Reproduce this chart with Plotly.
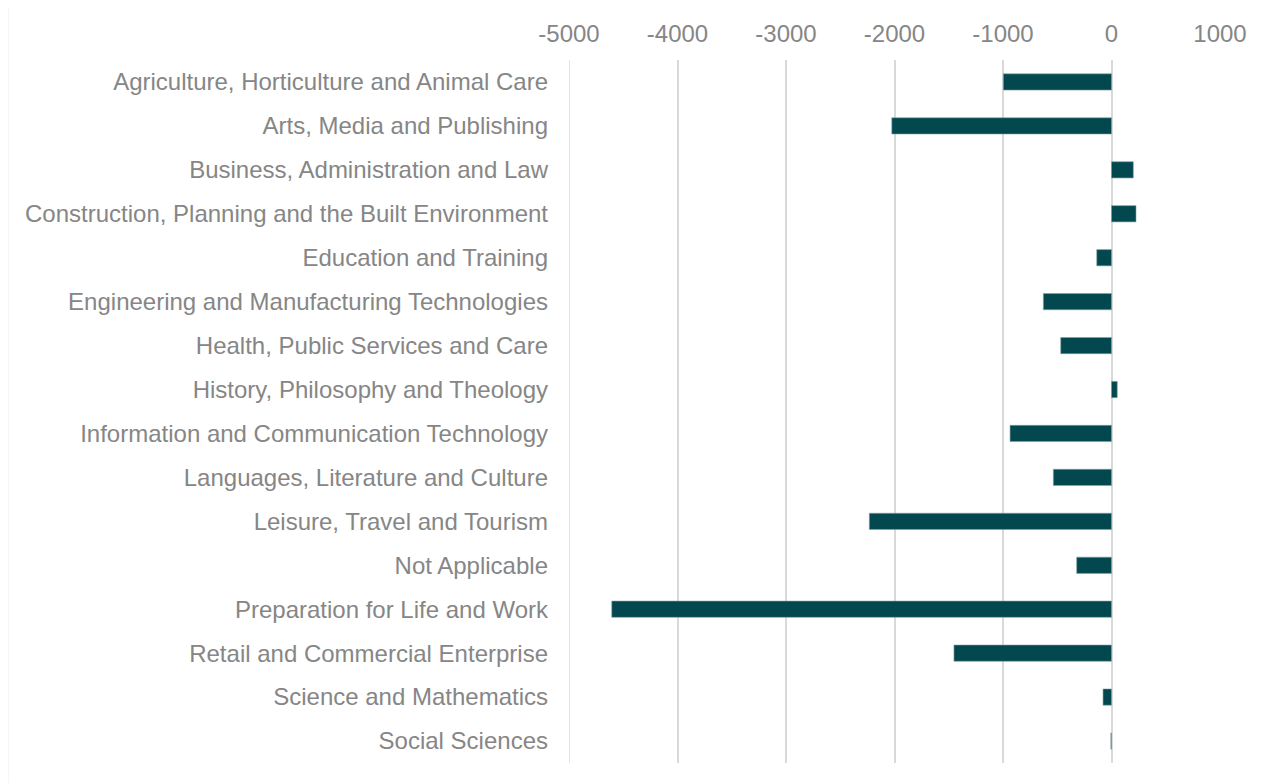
import plotly.graph_objects as go

categories = [
    "Agriculture, Horticulture and Animal Care",
    "Arts, Media and Publishing",
    "Business, Administration and Law",
    "Construction, Planning and the Built Environment",
    "Education and Training",
    "Engineering and Manufacturing Technologies",
    "Health, Public Services and Care",
    "History, Philosophy and Theology",
    "Information and Communication Technology",
    "Languages, Literature and Culture",
    "Leisure, Travel and Tourism",
    "Not Applicable",
    "Preparation for Life and Work",
    "Retail and Commercial Enterprise",
    "Science and Mathematics",
    "Social Sciences",
]
values = [-997, -2025, 201, 226, -136, -628, -468, 53, -935, -536, -2232, -321, -4606, -1452, -78, -6]
tick_vals = [-5000, -4000, -3000, -2000, -1000, 0, 1000]
tick_text = ["-5000", "-4000", "-3000", "-2000", "-1000", "0", "1000"]

TXT = "#868686"
BAR = "#03484E"
GRID = "#D9D9D9"

fig = go.Figure(go.Bar(
    x=values, y=categories, orientation="h",
    marker=dict(color=BAR, line=dict(color="#7FA3A6", width=0.6)),
))
fig.update_layout(
    width=1256, height=775,
    margin=dict(l=561, r=44, t=52, b=20),
    paper_bgcolor="white", plot_bgcolor="white",
    font=dict(family="Liberation Sans, Arial, sans-serif", size=24, color=TXT),
    bargap=0.63, showlegend=False,
    xaxis=dict(range=[-5000, 1000], side="top", tickvals=tick_vals, ticktext=tick_text,
               showgrid=True, gridcolor=GRID, gridwidth=1.5,
               zeroline=False, showline=False, ticks="",
               ticklabelstandoff=12, tickfont=dict(color=TXT)),
    yaxis=dict(autorange="reversed", showgrid=False, zeroline=False, showline=False,
               ticks="", ticklabelstandoff=20, tickfont=dict(color=TXT)),
    shapes=[
        dict(type="line", xref="paper", yref="paper",
             x0=(-0.5 - 561) / 651, x1=(-0.5 - 561) / 651, y0=-20 / 703, y1=1 + 60 / 703,
             line=dict(color=GRID, width=1.5)),
        dict(type="line", xref="x", yref="paper", x0=tick_vals[0], x1=tick_vals[0],
             y0=0, y1=1, layer="below", line=dict(color=GRID, width=1.5)),
    ],
)
fig.write_html("out.html")
